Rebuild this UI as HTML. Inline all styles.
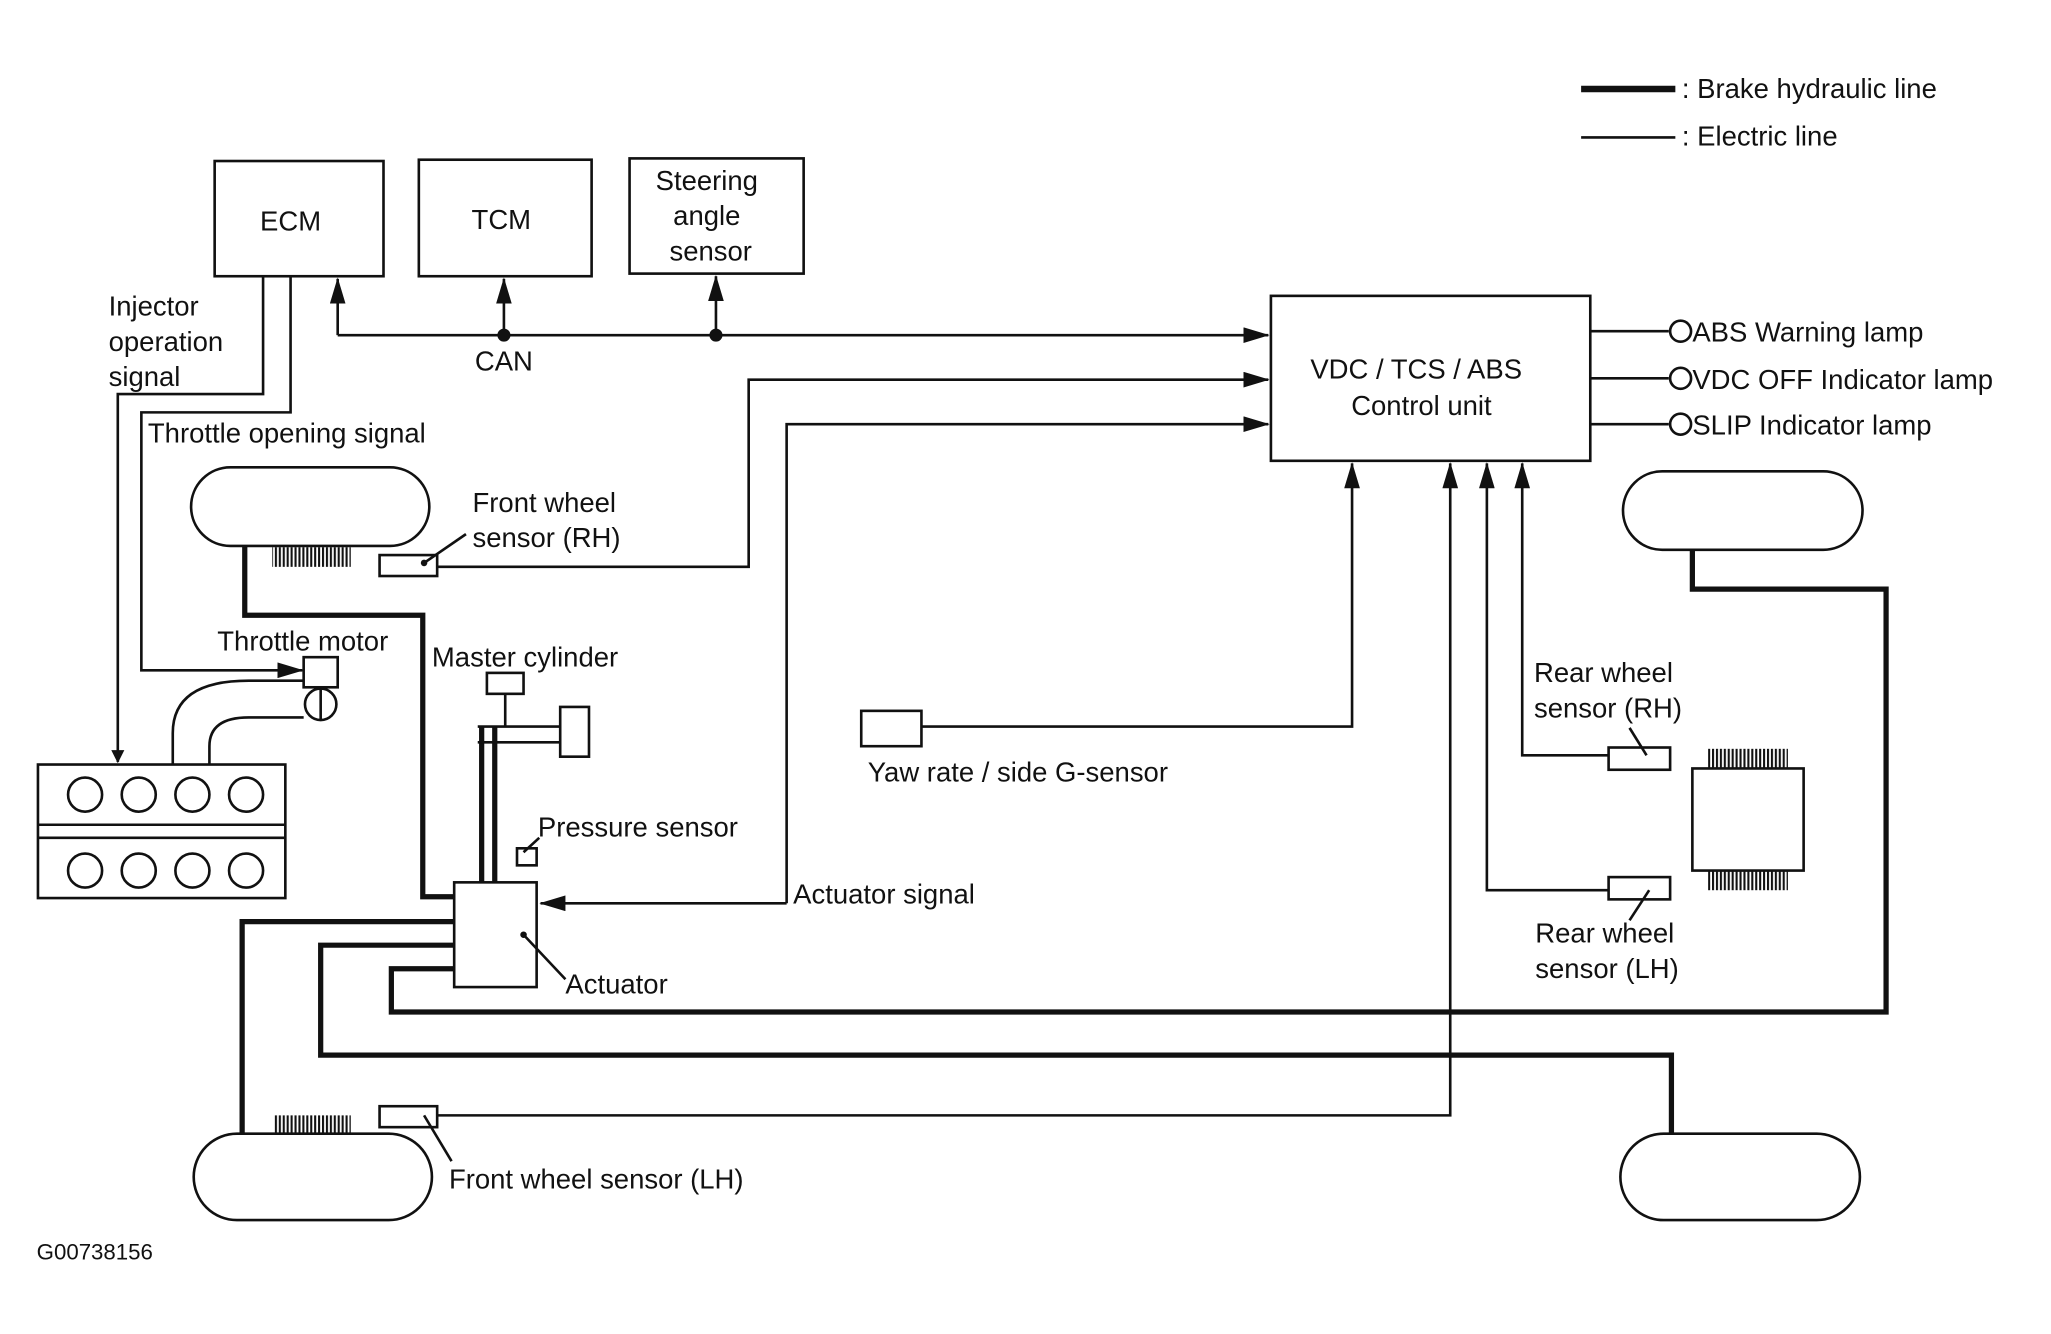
<!DOCTYPE html>
<html><head><meta charset="utf-8"><style>
html,body{margin:0;padding:0;background:#fff;}
svg{display:block;}
text{font-family:"Liberation Sans",sans-serif;font-size:21px;fill:#111;}
</style></head><body>
<svg width="2051" height="1334" viewBox="0 0 1567 1019" preserveAspectRatio="none" xmlns="http://www.w3.org/2000/svg">
<defs>
<marker id="a" markerWidth="10" markerHeight="10" refX="9" refY="5" orient="auto" markerUnits="userSpaceOnUse"><path d="M0,0 L10,5 L0,10 Z" fill="#111"/></marker>
<marker id="b" markerWidth="20" markerHeight="12" refX="19" refY="6" orient="auto" markerUnits="userSpaceOnUse"><path d="M0,0 L20,6 L0,12 Z" fill="#111"/></marker>
<pattern id="h" width="3" height="10" patternUnits="userSpaceOnUse"><rect width="1.6" height="10" fill="#111"/></pattern>
</defs>
<g stroke="#111" fill="none" stroke-width="2">
<line x1="1208" y1="68" x2="1280" y2="68" stroke-width="5"/>
<line x1="1208" y1="105" x2="1280" y2="105"/>
<rect x="164" y="123" width="129" height="88"/>
<rect x="320" y="122" width="132" height="89"/>
<rect x="481" y="121" width="133" height="88"/>
<rect x="971" y="226" width="244" height="126"/>
<line x1="258" y1="256" x2="969" y2="256" marker-end="url(#b)"/>
<line x1="258" y1="256" x2="258" y2="213" marker-end="url(#b)"/>
<line x1="385" y1="256" x2="385" y2="213" marker-end="url(#b)"/>
<line x1="547" y1="256" x2="547" y2="211" marker-end="url(#b)"/>
<line x1="1215" y1="253" x2="1275" y2="253"/><circle cx="1284" cy="253" r="8"/>
<line x1="1215" y1="289" x2="1275" y2="289"/><circle cx="1284" cy="289" r="8"/>
<line x1="1215" y1="324" x2="1275" y2="324"/><circle cx="1284" cy="324" r="8"/>
<polyline points="334,433 572,433 572,290 969,290" marker-end="url(#b)"/>
<polyline points="601,690 601,324 969,324" marker-end="url(#b)"/>
<line x1="601" y1="690" x2="413" y2="690" marker-end="url(#b)"/>
<polyline points="704,555 1033,555 1033,354" marker-end="url(#b)"/>
<polyline points="334,852 1108,852 1108,354" marker-end="url(#b)"/>
<polyline points="1229,680 1136,680 1136,354" marker-end="url(#b)"/>
<polyline points="1229,577 1163,577 1163,354" marker-end="url(#b)"/>
<polyline points="201,211 201,301 90,301 90,582" marker-end="url(#a)"/>
<polyline points="222,211 222,315 108,315 108,512 231,512" marker-end="url(#b)"/>
<rect x="290" y="424" width="44" height="16"/>
<rect x="290" y="845" width="44" height="16"/>
<rect x="1229" y="571" width="47" height="17"/>
<rect x="1229" y="670" width="47" height="17"/>
<rect x="658" y="543" width="46" height="27"/>
<line x1="324" y1="430" x2="356" y2="408"/>
<line x1="324" y1="852" x2="345" y2="887"/>
<line x1="1258" y1="577" x2="1245" y2="556"/>
<line x1="1260" y1="680" x2="1245" y2="703"/>
<rect x="146" y="357" width="182" height="60" rx="30"/>
<rect x="1240" y="360" width="183" height="60" rx="30"/>
<rect x="148" y="866" width="182" height="66" rx="33"/>
<rect x="1238" y="866" width="183" height="66" rx="33"/>
<g stroke-width="4">
<polyline points="187,417 187,470 323,470 323,685 348,685"/>
<polyline points="1293,420 1293,450 1441,450 1441,773 299,773 299,740 347,740"/>
<polyline points="185,866 185,704 347,704"/>
<polyline points="347,722 245,722 245,806 1277,806 1277,866"/>
<line x1="368" y1="674" x2="368" y2="555"/>
<line x1="378" y1="674" x2="378" y2="555"/>
</g>
<rect x="347" y="674" width="63" height="80" fill="#fff"/>
<line x1="400" y1="714" x2="432" y2="748"/>
<rect x="395" y="648" width="15" height="13"/>
<line x1="400" y1="651" x2="412" y2="640"/>
<line x1="365" y1="555" x2="428" y2="555"/>
<line x1="365" y1="567" x2="428" y2="567"/>
<rect x="428" y="540" width="22" height="38"/>
<rect x="372" y="514" width="28" height="16"/>
<line x1="386" y1="530" x2="386" y2="555"/>
<rect x="29" y="584" width="189" height="102"/>
<line x1="29" y1="630" x2="218" y2="630"/><line x1="29" y1="640" x2="218" y2="640"/>
<circle cx="65" cy="607" r="13"/><circle cx="106" cy="607" r="13"/><circle cx="147" cy="607" r="13"/><circle cx="188" cy="607" r="13"/>
<circle cx="65" cy="665" r="13"/><circle cx="106" cy="665" r="13"/><circle cx="147" cy="665" r="13"/><circle cx="188" cy="665" r="13"/>
<path d="M132,584 L132,560 Q132,520 190,520 L232,520"/>
<path d="M160,584 L160,570 Q160,548 190,548 L232,548"/>
<rect x="232" y="502" width="26" height="23"/>
<circle cx="245" cy="538" r="12" fill="#fff"/>
<line x1="245" y1="526" x2="245" y2="550"/>
<rect x="1293" y="587" width="85" height="78"/>
</g>
<rect x="208" y="418" width="60" height="15" fill="url(#h)"/>
<rect x="209" y="852" width="59" height="14" fill="url(#h)"/>
<rect x="1305" y="572" width="61" height="15" fill="url(#h)"/>
<rect x="1305" y="665" width="61" height="15" fill="url(#h)"/>
<g fill="#111"><circle cx="385" cy="256" r="5"/><circle cx="547" cy="256" r="5"/><circle cx="324" cy="430" r="2.5"/><circle cx="400" cy="714" r="2.5"/></g>
<text x="1285" y="75">: Brake hydraulic line</text>
<text x="1285" y="111">: Electric line</text>
<text x="222" y="176" text-anchor="middle">ECM</text>
<text x="383" y="175" text-anchor="middle">TCM</text>
<text x="540" y="145" text-anchor="middle">Steering</text>
<text x="540" y="172" text-anchor="middle">angle</text>
<text x="543" y="199" text-anchor="middle">sensor</text>
<text x="385" y="283" text-anchor="middle">CAN</text>
<text x="1082" y="289" text-anchor="middle">VDC / TCS / ABS</text>
<text x="1086" y="317" text-anchor="middle">Control unit</text>
<text x="1293" y="261">ABS Warning lamp</text>
<text x="1293" y="297">VDC OFF Indicator lamp</text>
<text x="1293" y="332">SLIP Indicator lamp</text>
<text x="83" y="241">Injector</text>
<text x="83" y="268">operation</text>
<text x="83" y="295">signal</text>
<text x="113" y="338">Throttle opening signal</text>
<text x="361" y="391">Front wheel</text>
<text x="361" y="418">sensor (RH)</text>
<text x="166" y="497">Throttle motor</text>
<text x="330" y="509">Master cylinder</text>
<text x="411" y="639">Pressure sensor</text>
<text x="606" y="690">Actuator signal</text>
<text x="432" y="759">Actuator</text>
<text x="663" y="597">Yaw rate / side G-sensor</text>
<text x="1172" y="521">Rear wheel</text>
<text x="1172" y="548">sensor (RH)</text>
<text x="1173" y="720">Rear wheel</text>
<text x="1173" y="747">sensor (LH)</text>
<text x="343" y="908">Front wheel sensor (LH)</text>
<text x="28" y="962" style="font-size:17px">G00738156</text>
</svg>
</body></html>
